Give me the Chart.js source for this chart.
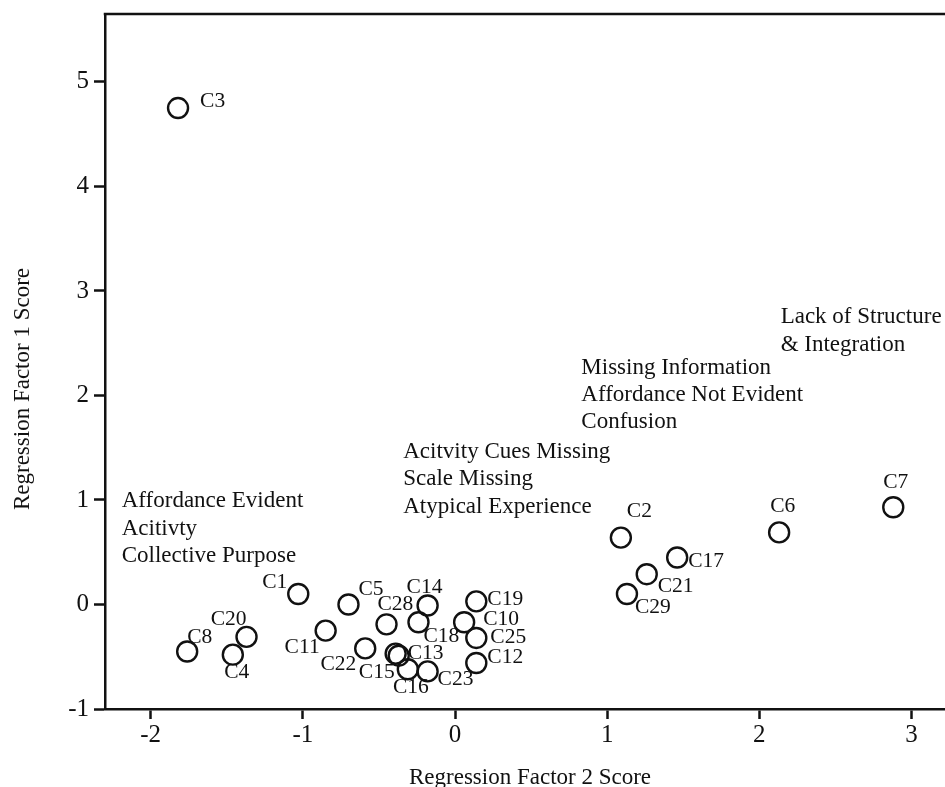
<!DOCTYPE html>
<html>
<head>
<meta charset="utf-8">
<script src="https://cdn.jsdelivr.net/npm/chart.js@4/dist/chart.umd.min.js"></script>
<style>
  html, body { margin: 0; padding: 0; background: #fff; }
  canvas { display: block; }
</style>
</head>
<body>
<canvas id="scores" width="945" height="787"></canvas>
<script>
// case labels with their regression scores (x = factor 2, y = factor 1)
const caseLabels = ['C1', 'C2', 'C3', 'C4', 'C5', 'C6', 'C7', 'C8', 'C10', 'C11', 'C12', 'C13', 'C14',
  'C15', 'C16', 'C17', 'C18', 'C19', 'C20', 'C21', 'C22', 'C23', 'C25', 'C28', 'C29'];
const factor2Scores = [-1.03, 1.09, -1.82, -1.46, -0.70, 2.13, 2.88, -1.76, 0.06, -0.85, 0.14, -0.39, -0.18,
  -0.37, -0.31, 1.46, -0.24, 0.14, -1.37, 1.26, -0.59, -0.18, 0.14, -0.45, 1.13];
const factor1Scores = [0.10, 0.64, 4.75, -0.48, 0.00, 0.69, 0.93, -0.45, -0.17, -0.25, -0.56, -0.47, -0.01,
  -0.49, -0.62, 0.45, -0.17, 0.03, -0.31, 0.29, -0.42, -0.64, -0.32, -0.19, 0.10];

const xTicks = [-2, -1, 0, 1, 2, 3];
const yTicks = [-1, 0, 1, 2, 3, 4, 5];

// group descriptions, anchored at (factor 2, factor 1)
const groupNotes = [
  { at: [-2.19, 0.93], lines: ['Affordance Evident', 'Acitivty', 'Collective Purpose'] },
  { at: [-0.34, 1.40], lines: ['Acitvity Cues Missing', 'Scale Missing', 'Atypical Experience'] },
  { at: [0.83, 2.21], lines: ['Missing Information', 'Affordance Not Evident', 'Confusion'] },
  { at: [2.14, 2.69], lines: ['Lack of Structure', '& Integration'] }
];

// where each case label sits next to its circle: [align, dx, dy] in px
const labelPlacement = {
  C1: ['right', -11, -12], C2: ['left', 6, -26], C3: ['left', 22, -7], C4: ['center', 4, 18],
  C5: ['left', 10, -15], C6: ['left', -9, -26], C7: ['left', -10, -25], C8: ['left', 0, -14],
  C10: ['left', 19, -3], C11: ['right', -6, 17], C12: ['left', 11, -6], C13: ['left', 12, 0],
  C14: ['left', -21, -18], C15: ['right', -4, 17], C16: ['center', 3, 18], C17: ['left', 11, 4],
  C18: ['left', 5, 14], C19: ['left', 11, -2], C20: ['right', 0, -18], C21: ['left', 11, 12],
  C22: ['right', -9, 16], C23: ['left', 10, 8], C25: ['left', 14, -1], C28: ['left', -9, -20],
  C29: ['left', 8, 13]
};

const serif = "'Liberation Serif', 'Times New Roman', serif";

const points = caseLabels.map((c, i) => ({ x: factor2Scores[i], y: factor1Scores[i], label: c }));

const textPlugin = {
  id: 'textPlugin',
  afterDatasetsDraw(chart) {
    const { ctx, chartArea, scales: { x, y } } = chart;
    ctx.save();
    // top frame line
    ctx.strokeStyle = '#111';
    ctx.lineWidth = 2.5;
    ctx.beginPath();
    ctx.moveTo(chartArea.left - 1.25, chartArea.top);
    ctx.lineTo(chartArea.right, chartArea.top);
    ctx.stroke();

    ctx.fillStyle = '#111';
    // case labels
    ctx.font = '21.5px ' + serif;
    ctx.textBaseline = 'middle';
    points.forEach(p => {
      const [align, dx, dy] = labelPlacement[p.label] || ['left', 10, -10];
      ctx.textAlign = align;
      ctx.fillText(p.label, x.getPixelForValue(p.x) + dx, y.getPixelForValue(p.y) + dy);
    });

    // group notes
    ctx.font = '23px ' + serif;
    ctx.textAlign = 'left';
    ctx.textBaseline = 'alphabetic';
    groupNotes.forEach(n => {
      const px = x.getPixelForValue(n.at[0]);
      const py = y.getPixelForValue(n.at[1]);
      n.lines.forEach((line, k) => ctx.fillText(line, px, py + k * 27.3));
    });

    // axis titles
    ctx.font = '23px ' + serif;
    ctx.textAlign = 'center';
    ctx.fillText('Regression Factor 2 Score', 530, 784);
    ctx.translate(29, 389);
    ctx.rotate(-Math.PI / 2);
    ctx.fillText('Regression Factor 1 Score', 0, 0);
    ctx.restore();
  }
};

new Chart(document.getElementById('scores'), {
  type: 'scatter',
  data: {
    datasets: [{
      label: 'Cases',
      data: points,
      pointStyle: 'circle',
      pointRadius: 10,
      pointHoverRadius: 10,
      pointBorderWidth: 2.4,
      borderColor: '#111',
      backgroundColor: 'rgba(0,0,0,0)',
      clip: false
    }]
  },
  options: {
    responsive: false,
    animation: false,
    layout: { autoPadding: false, padding: { top: 14, right: 0, left: 0, bottom: 0 } },
    plugins: { legend: { display: false }, tooltip: { enabled: false } },
    scales: {
      x: {
        type: 'linear',
        min: -2.3,
        max: 3.22,
        afterFit(scale) {
          scale.height = 78;
          scale.paddingLeft = 0;
          scale.paddingRight = 0;
        },
        afterBuildTicks(scale) { scale.ticks = xTicks.map(v => ({ value: v })); },
        border: { display: true, color: '#111', width: 2.5 },
        grid: { drawOnChartArea: false, drawTicks: true, tickLength: 10, tickWidth: 2.5, tickColor: '#111' },
        ticks: { color: '#111', padding: 1, font: { family: serif, size: 25 }, maxRotation: 0 }
      },
      y: {
        type: 'linear',
        min: -1,
        max: 5.65,
        afterFit(scale) {
          scale.width = 105;
          scale.paddingTop = 0;
          scale.paddingBottom = 0;
        },
        afterBuildTicks(scale) { scale.ticks = yTicks.map(v => ({ value: v })); },
        border: { display: true, color: '#111', width: 2.5 },
        grid: { drawOnChartArea: false, drawTicks: true, tickLength: 11, tickWidth: 2.5, tickColor: '#111' },
        ticks: { color: '#111', padding: 5, font: { family: serif, size: 25 } }
      }
    }
  },
  plugins: [textPlugin]
});
</script>
</body>
</html>
